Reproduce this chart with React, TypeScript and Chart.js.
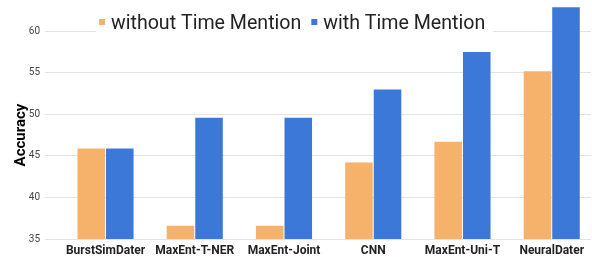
import { useEffect, useRef } from 'react';
import { Chart, registerables } from 'chart.js';

Chart.register(...registerables);

const categories = ['BurstSimDater', 'MaxEnt-T-NER', 'MaxEnt-Joint', 'CNN', 'MaxEnt-Uni-T', 'NeuralDater'];
const withoutTimeMention = [45.9, 36.6, 36.6, 44.2, 46.7, 55.2];
const withTimeMention = [45.9, 49.6, 49.6, 53.0, 57.5, 62.9];
const seriesNames = ['without Time Mention', 'with Time Mention'];
const seriesColors = ['#f6b26b', '#3c78d8'];
const yTitle = 'Accuracy';

const overlayPlugin = {
  id: 'overlay',
  afterDraw(chart: any) {
    const ctx = chart.ctx;
    ctx.save();
    // legend with white backdrop
    ctx.fillStyle = '#ffffff';
    ctx.fillRect(96, 8, 397, 32);
    ctx.font = '19.6px Roboto';
    ctx.textBaseline = 'alphabetic';
    ctx.textAlign = 'left';
    let x = 99;
    seriesNames.forEach((name, i) => {
      ctx.fillStyle = seriesColors[i];
      ctx.fillRect(x, 19, 6, 6);
      ctx.fillStyle = '#222222';
      ctx.fillText(name, x + 12, 29);
      x = x + 12 + ctx.measureText(name).width + 10;
    });
    // y title
    ctx.translate(21, 135);
    ctx.rotate(-Math.PI / 2);
    ctx.font = 'bold 15px Roboto';
    ctx.fillStyle = '#000000';
    ctx.textAlign = 'center';
    ctx.textBaseline = 'middle';
    ctx.fillText(yTitle, 0, 0);
    ctx.restore();
  },
};

export default function App() {
  const ref = useRef<HTMLCanvasElement>(null);
  useEffect(() => {
    if (!ref.current) return;
    const chart = new Chart(ref.current, {
      type: 'bar',
      data: {
        datasets: [
          {
            label: seriesNames[0],
            data: withoutTimeMention.map((v, i) => ({ x: i, y: v })),
            backgroundColor: seriesColors[0],
            categoryPercentage: 0.64,
            barPercentage: 0.965,
          },
          {
            label: seriesNames[1],
            data: withTimeMention.map((v, i) => ({ x: i, y: v })),
            backgroundColor: seriesColors[1],
            categoryPercentage: 0.64,
            barPercentage: 0.965,
          },
        ],
      },
      options: {
        animation: false,
        responsive: true,
        maintainAspectRatio: false,
        layout: { padding: { top: 3, right: 1, left: 0, bottom: 0 } },
        plugins: { legend: { display: false }, tooltip: { enabled: false } },
        scales: {
          x: {
            type: 'linear',
            offset: false,
            min: -0.678,
            max: 5.44,
            grid: { display: false, drawTicks: false, offset: false },
            border: { display: false },
            afterFit: (s: any) => {
              s.height = 23;
              s.paddingLeft = 0;
              s.paddingRight = 0;
            },
            ticks: {
              stepSize: 1,
              autoSkip: false,
              maxRotation: 0,
              includeBounds: false,
              padding: 5,
              color: '#222222',
              font: { family: 'Roboto', size: 12, weight: 'bold' },
              callback: (v: any) => (Number.isInteger(v) && categories[v] !== undefined ? categories[v] : ''),
            },
          },
          y: {
            min: 35,
            max: 63.4,
            grid: { color: '#e3e3e3', drawTicks: false },
            border: { display: false },
            afterFit: (s: any) => {
              s.width = 45;
              s.paddingTop = 0;
              s.paddingBottom = 0;
            },
            ticks: {
              stepSize: 5,
              includeBounds: false,
              padding: 5,
              color: '#444444',
              font: { family: 'Roboto', size: 10 },
            },
          },
        },
      },
      plugins: [overlayPlugin],
    } as any);
    return () => chart.destroy();
  }, []);
  return (
    <div style={{ position: 'fixed', left: 0, top: 0, width: 592, height: 262 }}>
      <canvas ref={ref} />
    </div>
  );
}
